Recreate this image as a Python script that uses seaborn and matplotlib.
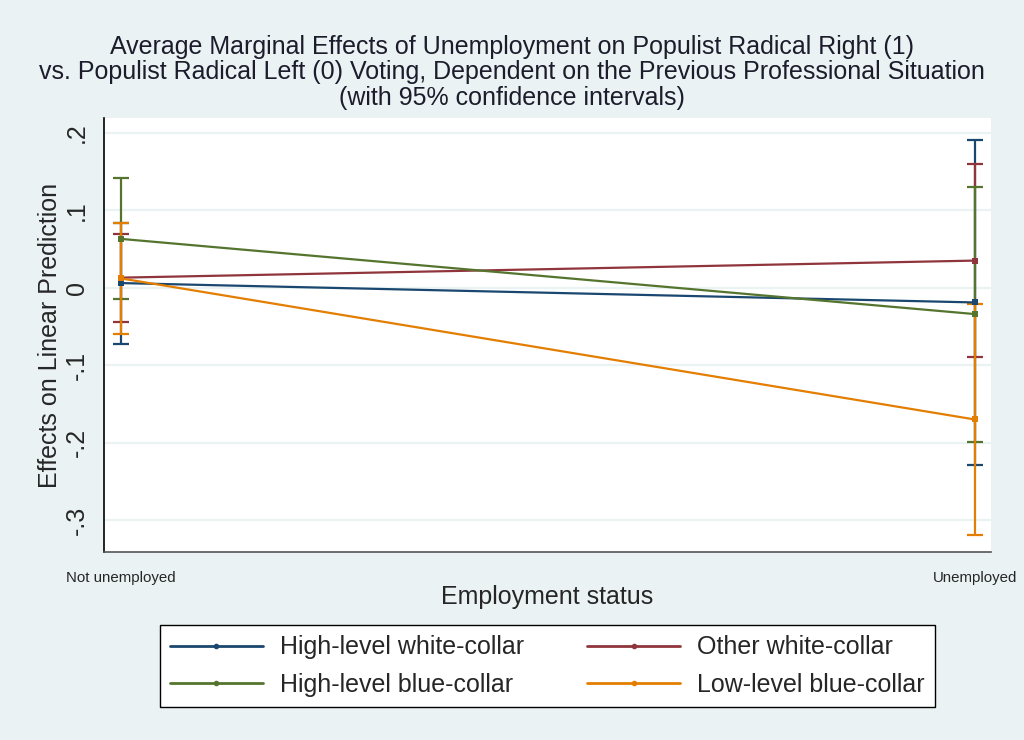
import numpy as np
import pandas as pd
import matplotlib
matplotlib.use("Agg")
import matplotlib.pyplot as plt
import seaborn as sns
from matplotlib.lines import Line2D

# Values
status = ["Not unemployed", "Unemployed"]
groups = ["High-level white-collar", "Other white-collar",
          "High-level blue-collar", "Low-level blue-collar"]
effect = {
    "High-level white-collar": [0.006, -0.019],
    "Other white-collar": [0.013, 0.035],
    "High-level blue-collar": [0.063, -0.034],
    "Low-level blue-collar": [0.012, -0.170],
}
ci_low = {
    "High-level white-collar": [-0.073, -0.229],
    "Other white-collar": [-0.044, -0.089],
    "High-level blue-collar": [-0.015, -0.199],
    "Low-level blue-collar": [-0.060, -0.319],
}
ci_high = {
    "High-level white-collar": [0.084, 0.190],
    "Other white-collar": [0.069, 0.160],
    "High-level blue-collar": [0.141, 0.130],
    "Low-level blue-collar": [0.083, -0.021],
}
colors = ["#1A476F", "#90353B", "#55752F", "#E37E00"]
yticks = [0.2, 0.1, 0.0, -0.1, -0.2, -0.3]
ytick_labels = [".2", ".1", "0", "-.1", "-.2", "-.3"]

rows = []
for g in groups:
    for i, s in enumerate(status):
        rows.append({"group": g, "x": i, "effect": effect[g][i],
                     "lo": ci_low[g][i], "hi": ci_high[g][i]})
df = pd.DataFrame(rows)

sns.set_style("white")
plt.rcParams["font.family"] = ["Liberation Sans", "DejaVu Sans"]

bg = "#EAF2F3"
fig = plt.figure(figsize=(10.24, 7.4), dpi=100, facecolor=bg)
ax = fig.add_axes([104 / 1024, 1 - 552 / 740, 887 / 1024, 434 / 740])
ax.set_facecolor("white")

# gridlines
for t in yticks:
    ax.axhline(t, color=bg, lw=1.6, zorder=0)

palette = dict(zip(groups, colors))

# confidence intervals
for g in groups:
    sub = df[df.group == g]
    ax.errorbar(sub.x, sub.effect,
                yerr=[sub.effect - sub.lo, sub.hi - sub.effect],
                fmt="none", ecolor=palette[g], elinewidth=1.6,
                capsize=6, capthick=1.6, zorder=2)

sns.lineplot(data=df, x="x", y="effect", hue="group", hue_order=groups,
             palette=palette, marker="s", markersize=5, markeredgewidth=0,
             linewidth=1.6, ax=ax, legend=False, zorder=3)

ax.set_xlim(-0.02, 1.019)
ax.set_ylim(-0.341, 0.219)
ax.set_xticks([0, 1])
ax.set_xticklabels(status, fontsize=10.8)
ax.set_yticks(yticks)
ax.set_yticklabels(ytick_labels, fontsize=18, rotation=90, va="center")
ax.tick_params(axis="both", direction="out", length=6, width=1.2,
               color="#555555")
ax.tick_params(axis="x", pad=8)
ax.tick_params(axis="y", pad=5)

for side in ["top", "right"]:
    ax.spines[side].set_visible(False)
ax.spines["left"].set_color("black")
ax.spines["bottom"].set_color("#555555")
ax.spines["left"].set_linewidth(1.2)
ax.spines["bottom"].set_linewidth(1.2)

ax.set_xlabel("Employment status", fontsize=18, labelpad=0)
ax.set_ylabel("Effects on Linear Prediction", fontsize=18, labelpad=2)

fig.suptitle("Average Marginal Effects of Unemployment on Populist Radical Right (1)\n"
             "vs. Populist Radical Left (0) Voting, Dependent on the Previous Professional Situation\n"
             "(with 95% confidence intervals)",
             fontsize=18, y=0.953, color="#1c1c2c", linespacing=1.08)

handles = [Line2D([0], [0], color=c, lw=2, marker="o", markersize=3)
           for c in colors]
order = [0, 2, 1, 3]
leg = fig.legend([handles[i] for i in order], [groups[i] for i in order],
                 loc="lower left", ncol=2, mode="expand",
                 bbox_to_anchor=(160 / 1024, 1 - 707 / 740, 775 / 1024, 84 / 740),
                 borderaxespad=0,
                 fontsize=18, frameon=True, fancybox=False, edgecolor="black",
                 framealpha=1, handlelength=3.7, handletextpad=0.7,
                 borderpad=0.4, labelspacing=0.55)
leg.get_frame().set_linewidth(1.0)
leg.get_frame().set_facecolor("white")

fig.savefig("out.png", dpi=100, facecolor=bg)
